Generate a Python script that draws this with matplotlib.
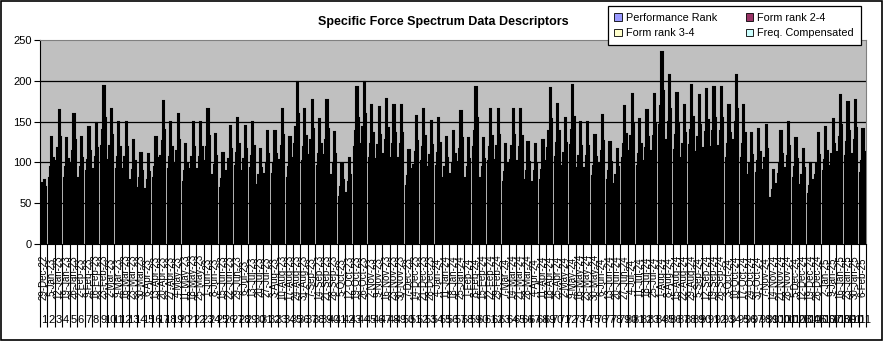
import pandas as pd
import numpy as np
import matplotlib
matplotlib.use("Agg")
import matplotlib.pyplot as plt
from matplotlib.patches import Patch, Rectangle

plt.rcParams['font.family'] = ['Liberation Sans', 'DejaVu Sans']

# series values, one entry per week (111 weeks)
perf_rank = [72, 81, 102, 81, 99, 81, 89, 92, 120, 103, 92, 92, 79, 69, 68, 81, 108, 92, 99, 76, 92, 92, 102, 84, 69, 90, 95, 90, 93, 72, 86, 86,
             103, 81, 123, 102, 109, 95, 109, 85, 58, 62, 119, 123, 105, 104, 110, 105, 105, 71, 97, 102, 94, 96, 81, 86, 101, 81, 119, 81, 102, 103, 76, 103, 102, 78, 76, 79, 118, 107, 96, 121,
             93, 93, 83, 98, 78, 73, 105, 114, 95, 102, 114, 146, 128, 115, 105, 121, 113, 118, 119, 120, 105, 128, 105, 84, 87, 91, 56, 86, 93, 81, 72, 61, 84, 89, 95, 113, 108, 110, 87]
form_2_4 = [75, 94, 118, 94, 114, 94, 103, 107, 140, 120, 107, 107, 91, 81, 79, 94, 126, 107, 114, 89, 107, 107, 119, 97, 80, 104, 111, 104, 108, 84, 99, 99,
            120, 94, 143, 119, 127, 110, 127, 99, 70, 76, 138, 143, 122, 121, 128, 122, 122, 83, 113, 119, 109, 112, 94, 99, 117, 94, 138, 94, 119, 120, 88, 120, 119, 90, 89, 91, 138, 124, 112, 140,
            108, 108, 96, 114, 90, 84, 122, 132, 110, 118, 132, 169, 149, 133, 122, 140, 131, 137, 138, 139, 122, 149, 122, 98, 102, 105, 66, 99, 108, 94, 84, 71, 98, 103, 110, 131, 125, 127, 102]
form_3_4 = [78, 131, 164, 130, 159, 131, 143, 148, 194, 166, 149, 149, 127, 112, 110, 131, 175, 149, 159, 123, 149, 149, 165, 135, 111, 145, 154, 145, 150, 116, 138, 138,
            166, 131, 199, 165, 176, 153, 176, 137, 98, 105, 192, 199, 170, 168, 178, 170, 170, 115, 157, 165, 151, 155, 131, 138, 163, 130, 192, 130, 165, 166, 122, 166, 165, 125, 123, 127, 191, 172, 155, 195,
            150, 150, 134, 158, 125, 117, 169, 184, 153, 164, 184, 235, 207, 185, 170, 195, 182, 190, 192, 193, 170, 207, 170, 136, 141, 146, 91, 138, 150, 130, 116, 99, 136, 143, 153, 182, 174, 177, 141]
freq_comp = [70, 105, 131, 104, 127, 105, 114, 118, 155, 133, 119, 119, 102, 90, 88, 105, 140, 119, 127, 98, 119, 119, 132, 108, 89, 116, 123, 116, 120, 93, 110, 110,
             133, 105, 159, 132, 141, 122, 141, 110, 78, 84, 154, 159, 136, 134, 142, 136, 136, 92, 126, 132, 121, 124, 105, 110, 130, 104, 154, 104, 132, 133, 98, 133, 132, 100, 98, 102, 153, 138, 124, 156,
             120, 120, 107, 126, 100, 94, 135, 147, 122, 131, 147, 188, 166, 148, 136, 156, 146, 152, 154, 154, 136, 166, 136, 109, 113, 117, 73, 110, 120, 104, 93, 79, 109, 114, 122, 146, 139, 142, 113]

series_names = ['Performance Rank', 'Form rank 2-4', 'Form rank 3-4', 'Freq. Compensated']
series_colors = ['#9999FF', '#993366', '#FFFFCC', '#CCFFFF']

dates = pd.date_range('2022-12-29', periods=len(perf_rank), freq='7D')
date_labels = [f"{d.day}-{d.strftime('%b-%y')}" for d in dates]
num_labels = [str(i + 1) for i in range(len(perf_rank))]

fig = plt.figure(figsize=(8.84, 3.41), dpi=100)
ax = fig.add_axes([40/884, (341-244)/341, 826/884, 204/341])
ax.set_facecolor('#C0C0C0')

n = len(perf_rank)
x = np.arange(n)
group = 0.68
w = group / 4
all_series = [perf_rank, form_2_4, form_3_4, freq_comp]
# at this density the black bar borders swallow the fills, as in the original
for k, vals in enumerate(all_series):
    ax.bar(x + 0.5 - group/2 + w*(k + 0.5), vals, width=w, color=series_colors[k],
           edgecolor='black', linewidth=1.5, zorder=3)

ax.set_xlim(0, n)
ax.set_ylim(0, 250)
ax.set_yticks([0, 50, 100, 150, 200, 250])
ax.tick_params(axis='y', labelsize=8, length=4, width=0.8, pad=2)
ax.set_xticks([])
for yv in [50, 100, 150, 200]:
    ax.axhline(yv, color='black', lw=0.9, zorder=1)
for s in ['top', 'right']:
    ax.spines[s].set_color('#808080')
ax.spines['left'].set_color('black')
ax.spines['bottom'].set_color('black')

# category separators running through the two label rows
trans = ax.get_xaxis_transform()
ax.vlines(np.arange(n + 1), 0, -83/204, color='black', lw=0.8, transform=trans, clip_on=False)
for i in range(n):
    ax.text(i + 0.5, -33/204, date_labels[i], rotation=90, ha='center', va='center',
            fontsize=7, transform=trans, clip_on=False)
    ax.text(i + 0.5, -76/204, num_labels[i], ha='center', va='center',
            fontsize=8, transform=trans, clip_on=False)

fig.text(443/884, 1 - 22/341, 'Specific Force Spectrum Data Descriptors', ha='center', va='center',
         fontsize=9, fontweight='bold')

handles = [Patch(facecolor=c, edgecolor='black', lw=0.6) for c in series_colors]
order = [0, 2, 1, 3]
leg = fig.legend([handles[i] for i in order], [series_names[i] for i in order], ncol=2,
                 loc='upper right', bbox_to_anchor=(866/884, 1 - 1/341), fontsize=7.8,
                 fancybox=False, framealpha=1, edgecolor='black', handlelength=0.7, handleheight=0.7,
                 handletextpad=0.4, columnspacing=2.6, borderpad=0.6, labelspacing=0.5)
leg.get_frame().set_linewidth(0.9)

fig.patches.append(Rectangle((0.001, 0.002), 0.997, 0.995, transform=fig.transFigure,
                             fill=False, edgecolor='black', lw=1.2))

fig.savefig('out.png', dpi=100)
